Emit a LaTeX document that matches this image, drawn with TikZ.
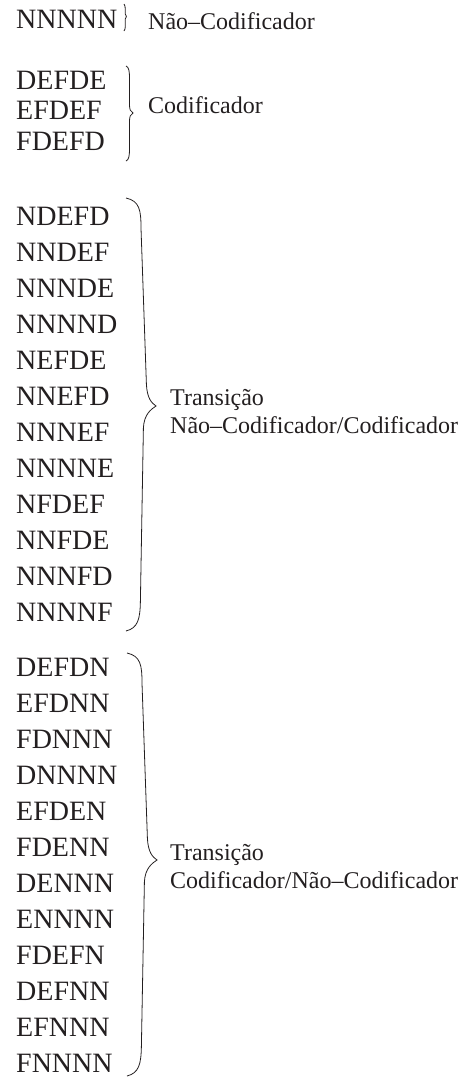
\documentclass[tikz,border=0pt]{standalone}
\usepackage{fontspec}
\setmainfont{Liberation Serif}
\definecolor{ink}{RGB}{35,31,32}
\newcommand{\bigcurly}[4]{%
  \draw[brace] (#1,#2) .. controls (#1+13.5,#2+3) and (#1+15,#2+12) .. (#1+15,#2+30)
    -- (#1+20.4,#3-22) .. controls (#1+21,#3-8) and (#1+25.5,#3-3) .. (#1+30,#3)
    .. controls (#1+25.5,#3+3) and (#1+18,#3+8) .. (#1+17.4,#3+22)
    -- (#1+14.4,#4-30) .. controls (#1+14.1,#4-12) and (#1+12,#4-3) .. (#1,#4);}
\begin{document}
\begin{tikzpicture}[x=1pt,y=-1pt,
  code/.style={anchor=base west,inner sep=0pt,text=ink,font=\fontsize{28}{30}\selectfont},
  lab/.style={anchor=base west,inner sep=0pt,text=ink,font=\fontsize{24}{28}\selectfont},
  brace/.style={draw=ink,line width=0.8pt}]
\useasboundingbox (0,0) rectangle (472,1079);
% group 1
\node[code] (n1) at (16,28) {NNNNN};
\node[lab] (l1) at (148,29) {Não–Codificador};
\draw[brace] (124,4) .. controls (125,5) and (125.3,7) .. (125.3,10) -- (125.3,14)
  .. controls (125.3,15.5) and (125.6,16.2) .. (126.4,16.5)
  .. controls (125.6,16.8) and (125.3,17.5) .. (125.3,19) -- (125.3,26)
  .. controls (125.3,28) and (125,30) .. (124,31);
% group 2
\node[code] (c1) at (16,89) {DEFDE};
\node[code] (c2) at (16,119.5) {EFDEF};
\node[code] (c3) at (16,150) {FDEFD};
\node[lab] (l2) at (148,113) {Codificador};
\draw[brace] (126,66) .. controls (129,67) and (129.5,72) .. (129.5,78) -- (129.5,105)
  .. controls (129.5,109) and (130.5,112) .. (133,113)
  .. controls (130.5,114) and (129.5,117) .. (129.5,121) -- (129.5,149)
  .. controls (129.5,155) and (129,160) .. (126,161);
% group 3
\foreach \t [count=\i from 0] in {NDEFD,NNDEF,NNNDE,NNNND,NEFDE,NNEFD,NNNEF,NNNNE,NFDEF,NNFDE,NNNFD,NNNNF}
  \node[code] (a\i) at (16,225+36*\i) {\t};
\node[lab] (l3a) at (170,405) {Transição};
\node[lab] (l3b) at (170,433) {Não–Codificador/Codificador};
\bigcurly{126}{198}{406}{631}
% group 4
\foreach \t [count=\i from 0] in {DEFDN,EFDNN,FDNNN,DNNNN,EFDEN,FDENN,DENNN,ENNNN,FDEFN,DEFNN,EFNNN,FNNNN}
  \node[code] (b\i) at (16,676+36*\i) {\t};
\node[lab] (l4a) at (170,860) {Transição};
\node[lab] (l4b) at (170,888) {Codificador/Não–Codificador};
\bigcurly{127}{653}{860}{1076}
\end{tikzpicture}
\end{document}
